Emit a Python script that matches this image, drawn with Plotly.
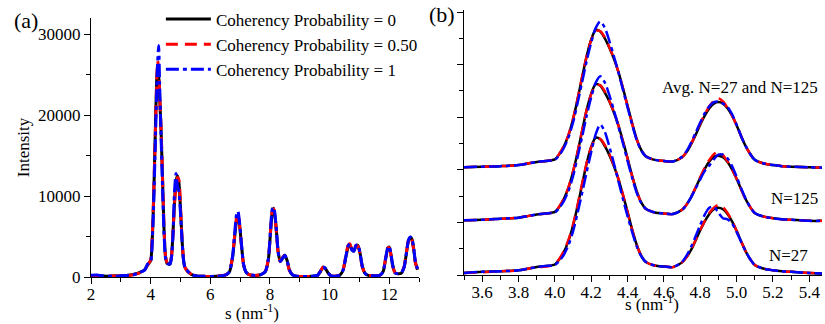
import plotly.graph_objects as go

# ---------------- (a) full diffraction profile ----------------
s_a = [
    2.0, 2.2, 2.4, 2.6, 2.8, 3.0, 3.2, 3.4, 3.6, 3.8,
    3.9, 4.0, 4.05, 4.10, 4.15, 4.20, 4.235, 4.27, 4.30, 4.35,
    4.40, 4.45, 4.50, 4.55, 4.60, 4.65, 4.70, 4.75, 4.80, 4.85,
    4.90, 4.95, 5.00, 5.05, 5.10, 5.15, 5.20, 5.30, 5.40, 5.60,
    5.80, 6.00, 6.20, 6.40, 6.55, 6.65, 6.75, 6.82, 6.88, 6.93,
    6.98, 7.05, 7.12, 7.20, 7.30, 7.50, 7.70, 7.85, 7.95, 8.02,
    8.08, 8.13, 8.20, 8.28, 8.35, 8.42, 8.50, 8.58, 8.65, 8.75,
    8.90, 9.10, 9.40, 9.60, 9.70, 9.78, 9.85, 9.95, 10.05, 10.20,
    10.35, 10.45, 10.55, 10.62, 10.68, 10.75, 10.82, 10.88, 10.95, 11.02,
    11.10, 11.20, 11.30, 11.50, 11.70, 11.80, 11.88, 11.95, 12.00, 12.05,
    12.12, 12.20, 12.30, 12.40, 12.50, 12.58, 12.65, 12.71, 12.76, 12.82,
    12.88, 12.95,
]
int_a_p0 = [
    150, 200, 120, 100, 150, 120, 180, 300, 500, 900,
    1500, 2000, 4400, 9500, 17000, 24000, 26300, 25000, 22500, 18000,
    12000, 5800, 2500, 1700, 1600, 1600, 2500, 5500, 9200, 11800,
    12500, 11600, 8500, 4800, 2200, 1200, 900, 500, 250, 100,
    80, 60, 80, 150, 300, 700, 2500, 5000, 7000, 7500,
    6500, 3800, 1500, 600, 300, 200, 300, 700, 2200, 5500,
    8000, 8500, 6500, 3000, 1900, 2300, 2700, 2000, 900, 300,
    100, 50, 80, 200, 700, 1200, 1100, 500, 150, 100,
    250, 800, 2500, 3700, 4000, 3400, 3200, 3800, 3900, 3000,
    1300, 400, 200, 150, 250, 700, 2200, 3500, 3700, 3000,
    1400, 500, 400, 450, 1200, 3000, 4500, 4900, 4700, 3500,
    1800, 900,
]
int_a_p050 = [
    180, 150, 100, 130, 120, 150, 150, 280, 450, 950,
    1500, 2100, 4800, 10000, 16500, 23500, 26700, 25500, 22800, 18300,
    12300, 6000, 2500, 1800, 1600, 1700, 2600, 5400, 9000, 11300,
    12300, 12000, 8800, 4900, 2300, 1200, 900, 500, 250, 100,
    80, 60, 80, 150, 320, 750, 2600, 5200, 7300, 7800,
    6600, 3700, 1400, 600, 300, 200, 300, 750, 2300, 5700,
    8200, 8400, 6300, 2900, 1900, 2400, 2700, 1900, 850, 300,
    100, 50, 80, 220, 750, 1200, 1050, 450, 150, 100,
    250, 850, 2700, 3900, 4100, 3400, 3300, 3900, 3800, 2900,
    1200, 400, 200, 150, 250, 750, 2300, 3600, 3600, 2900,
    1300, 500, 400, 450, 1300, 3100, 4600, 4950, 4600, 3400,
    1700, 1000,
]
int_a_p1 = [
    200, 250, 150, 120, 100, 150, 200, 250, 500, 850,
    1600, 1900, 4000, 8800, 15500, 22500, 26500, 28600, 24000, 17500,
    11000, 5300, 2300, 1700, 1600, 1600, 2400, 5200, 10500, 12800,
    11200, 10500, 8000, 4700, 2200, 1100, 900, 500, 250, 100,
    80, 60, 80, 150, 300, 700, 2600, 5400, 7700, 8100,
    6800, 3900, 1500, 600, 300, 200, 300, 700, 2300, 5800,
    8400, 8600, 6600, 3000, 1900, 2300, 2700, 2000, 900, 300,
    100, 50, 80, 200, 750, 1250, 1100, 500, 150, 100,
    250, 800, 2600, 3800, 4100, 3300, 3200, 3900, 4000, 3000,
    1300, 400, 200, 150, 250, 700, 2300, 3600, 3800, 3100,
    1400, 500, 400, 450, 1200, 3000, 4600, 4950, 4800, 3600,
    1900, 1000,
]

# ---------------- (b) first two peaks, stacked ----------------
s_b = [
    3.50, 3.60, 3.70, 3.80, 3.85, 3.90, 3.95, 4.00, 4.025, 4.05,
    4.075, 4.10, 4.125, 4.15, 4.175, 4.20, 4.225, 4.25, 4.275, 4.30,
    4.325, 4.35, 4.375, 4.40, 4.425, 4.45, 4.475, 4.50, 4.55, 4.60,
    4.65, 4.70, 4.725, 4.75, 4.775, 4.80, 4.825, 4.85, 4.875, 4.90,
    4.925, 4.95, 4.975, 5.00, 5.025, 5.05, 5.075, 5.10, 5.15, 5.20,
    5.25, 5.30, 5.40, 5.47,
]
n27_p0 = [
    0.04, 0.06, 0.07, 0.09, 0.12, 0.15, 0.17, 0.20, 0.30, 0.44,
    0.65, 0.94, 1.31, 1.72, 2.12, 2.44, 2.61, 2.58, 2.45, 2.28,
    2.07, 1.82, 1.52, 1.20, 0.87, 0.58, 0.37, 0.25, 0.18, 0.16,
    0.15, 0.24, 0.34, 0.48, 0.66, 0.85, 1.02, 1.16, 1.25, 1.28,
    1.25, 1.16, 1.02, 0.84, 0.64, 0.45, 0.30, 0.19, 0.12, 0.09,
    0.07, 0.06, 0.04, 0.03,
]
n27_p050 = [
    0.04, 0.05, 0.07, 0.09, 0.12, 0.15, 0.16, 0.20, 0.31, 0.46,
    0.67, 0.96, 1.33, 1.74, 2.13, 2.43, 2.59, 2.59, 2.47, 2.30,
    2.08, 1.83, 1.52, 1.19, 0.86, 0.57, 0.37, 0.25, 0.18, 0.16,
    0.15, 0.24, 0.34, 0.49, 0.67, 0.86, 1.03, 1.18, 1.28, 1.33,
    1.29, 1.18, 1.03, 0.84, 0.64, 0.45, 0.30, 0.19, 0.12, 0.09,
    0.07, 0.06, 0.04, 0.03,
]
n27_p1 = [
    0.04, 0.06, 0.07, 0.09, 0.12, 0.15, 0.17, 0.19, 0.27, 0.39,
    0.57, 0.83, 1.18, 1.56, 1.96, 2.34, 2.68, 2.86, 2.72, 2.44,
    2.12, 1.78, 1.44, 1.12, 0.82, 0.55, 0.36, 0.25, 0.18, 0.16,
    0.15, 0.25, 0.37, 0.54, 0.74, 0.95, 1.15, 1.28, 1.30, 1.18,
    1.08, 1.06, 0.98, 0.82, 0.63, 0.45, 0.30, 0.19, 0.12, 0.09,
    0.07, 0.06, 0.04, 0.03,
]
n125_p0 = [
    0.04, 0.05, 0.07, 0.09, 0.12, 0.15, 0.17, 0.20, 0.30, 0.45,
    0.66, 0.96, 1.33, 1.74, 2.14, 2.45, 2.63, 2.60, 2.47, 2.30,
    2.09, 1.84, 1.54, 1.22, 0.89, 0.60, 0.38, 0.26, 0.19, 0.17,
    0.16, 0.24, 0.34, 0.48, 0.66, 0.85, 1.02, 1.16, 1.25, 1.27,
    1.24, 1.15, 1.01, 0.83, 0.63, 0.44, 0.29, 0.18, 0.11, 0.08,
    0.06, 0.05, 0.03, 0.03,
]
n125_p050 = [
    0.04, 0.05, 0.07, 0.09, 0.12, 0.15, 0.17, 0.20, 0.31, 0.46,
    0.67, 0.97, 1.34, 1.75, 2.14, 2.44, 2.61, 2.61, 2.49, 2.31,
    2.10, 1.84, 1.53, 1.21, 0.88, 0.59, 0.38, 0.26, 0.19, 0.17,
    0.16, 0.24, 0.34, 0.49, 0.67, 0.86, 1.04, 1.19, 1.30, 1.35,
    1.28, 1.16, 1.01, 0.83, 0.63, 0.44, 0.29, 0.18, 0.11, 0.08,
    0.06, 0.05, 0.03, 0.03,
]
n125_p1 = [
    0.04, 0.05, 0.07, 0.09, 0.12, 0.15, 0.17, 0.19, 0.28, 0.41,
    0.60, 0.88, 1.24, 1.63, 2.03, 2.38, 2.66, 2.78, 2.66, 2.42,
    2.13, 1.82, 1.50, 1.17, 0.85, 0.57, 0.37, 0.26, 0.19, 0.17,
    0.16, 0.24, 0.34, 0.48, 0.65, 0.82, 0.98, 1.08, 1.20, 1.29,
    1.29, 1.22, 1.07, 0.87, 0.65, 0.45, 0.29, 0.18, 0.11, 0.08,
    0.06, 0.05, 0.03, 0.03,
]
avg_p0 = [
    0.05, 0.06, 0.07, 0.09, 0.12, 0.15, 0.17, 0.20, 0.30, 0.45,
    0.66, 0.96, 1.34, 1.76, 2.16, 2.48, 2.66, 2.63, 2.50, 2.32,
    2.11, 1.86, 1.55, 1.22, 0.89, 0.59, 0.38, 0.26, 0.19, 0.17,
    0.16, 0.24, 0.34, 0.49, 0.67, 0.86, 1.03, 1.17, 1.26, 1.29,
    1.26, 1.17, 1.03, 0.85, 0.64, 0.45, 0.30, 0.19, 0.12, 0.09,
    0.07, 0.06, 0.05, 0.04,
]
avg_p050 = [
    0.05, 0.06, 0.07, 0.09, 0.12, 0.15, 0.17, 0.20, 0.31, 0.46,
    0.67, 0.97, 1.35, 1.77, 2.16, 2.47, 2.64, 2.64, 2.52, 2.33,
    2.12, 1.86, 1.54, 1.21, 0.88, 0.58, 0.38, 0.26, 0.19, 0.17,
    0.16, 0.24, 0.34, 0.50, 0.68, 0.88, 1.06, 1.21, 1.31, 1.36,
    1.30, 1.18, 1.03, 0.85, 0.64, 0.45, 0.30, 0.19, 0.12, 0.09,
    0.07, 0.06, 0.05, 0.04,
]
avg_p1 = [
    0.05, 0.06, 0.07, 0.09, 0.12, 0.15, 0.17, 0.19, 0.28, 0.42,
    0.62, 0.90, 1.27, 1.67, 2.07, 2.42, 2.70, 2.82, 2.70, 2.45,
    2.16, 1.85, 1.52, 1.19, 0.86, 0.57, 0.37, 0.26, 0.19, 0.17,
    0.16, 0.25, 0.36, 0.52, 0.71, 0.90, 1.08, 1.21, 1.29, 1.30,
    1.26, 1.20, 1.06, 0.86, 0.64, 0.45, 0.30, 0.19, 0.12, 0.09,
    0.07, 0.06, 0.05, 0.04,
]

series_names = ["Coherency Probability = 0",
                "Coherency Probability = 0.50",
                "Coherency Probability = 1"]
group_labels = ["N=27", "N=125", "Avg. N=27 and N=125"]
group_offsets = [0, 1, 2]

FONT = "Times New Roman, Liberation Serif, DejaVu Serif, serif"
line_styles = [
    dict(color="#000000", dash="solid"),
    dict(color="#ff0000", dash="12px,7px"),
    dict(color="#0000ff", dash="13px,4px,4px,4px"),
]

fig = go.Figure()

for name, ys, st in zip(series_names, [int_a_p0, int_a_p050, int_a_p1], line_styles):
    fig.add_trace(go.Scatter(
        x=s_a, y=ys, mode="lines", name=name,
        line=dict(width=3, shape="spline", smoothing=0.6, **st),
        xaxis="x", yaxis="y",
    ))

groups_b = [
    [n27_p0, n27_p050, n27_p1],
    [n125_p0, n125_p050, n125_p1],
    [avg_p0, avg_p050, avg_p1],
]
for offset, group in zip(group_offsets, groups_b):
    for ys, st in zip(group, line_styles):
        fig.add_trace(go.Scatter(
            x=s_b, y=[v + offset for v in ys], mode="lines", showlegend=False,
            line=dict(width=2.5, shape="spline", smoothing=0.8, **st),
            xaxis="x2", yaxis="y2",
        ))

tickfont = dict(family=FONT, size=17, color="black")
common = dict(showline=True, linecolor="black", linewidth=1, showgrid=False,
              zeroline=False, ticks="outside", ticklen=6, tickwidth=1,
              tickcolor="black", tickfont=tickfont, automargin=False)

fig.update_layout(
    width=825, height=324,
    margin=dict(l=0, r=0, t=0, b=0, autoexpand=False),
    paper_bgcolor="white", plot_bgcolor="white",
    font=dict(family=FONT, size=17, color="black"),
    showlegend=True,
    legend=dict(x=0.195, y=1 - 1.5 / 324, xanchor="left", yanchor="top",
                bgcolor="rgba(0,0,0,0)", font=dict(family=FONT, size=17),
                itemwidth=45, tracegroupgap=0),
    xaxis=dict(domain=[91 / 825, 419 / 825], range=[2, 13], tick0=2, dtick=2,
               ticklabelstandoff=-4,
               minor=dict(dtick=1, ticks="outside", ticklen=4, tickcolor="black"),
               anchor="y", **common),
    yaxis=dict(domain=[47 / 324, 306 / 324], range=[0, 32000], dtick=10000,
               tickformat="d",
               minor=dict(dtick=5000, ticks="outside", ticklen=4, tickcolor="black"),
               title=dict(text="Intensity", font=dict(family=FONT, size=17), standoff=4),
               anchor="x", **common),
    xaxis2=dict(domain=[464 / 825, 822 / 825], range=[3.5, 5.47], tick0=3.6, dtick=0.2,
                tickformat=".1f", ticklabelstandoff=-4,
                minor=dict(dtick=0.1, ticks="outside", ticklen=4, tickcolor="black"),
                anchor="y2", **common),
    yaxis2=dict(domain=[49 / 324, 314 / 324], range=[0, 5.04], dtick=1,
                showticklabels=False,
                minor=dict(dtick=0.5, ticks="outside", ticklen=4, tickcolor="black"),
                anchor="x2", **common),
)

# panel letters
fig.add_annotation(text="(a)", xref="paper", yref="paper", x=12 / 825, y=1 - 20 / 324,
                   xanchor="left", yanchor="middle", showarrow=False,
                   font=dict(family=FONT, size=22))
fig.add_annotation(text="(b)", xref="paper", yref="paper", x=427 / 825, y=1 - 15 / 324,
                   xanchor="left", yanchor="middle", showarrow=False,
                   font=dict(family=FONT, size=22))

# x-axis titles, placed close under the tick labels
for cx, cy in [(252, 312), (652, 303)]:
    fig.add_annotation(text="s (nm<sup>-1</sup>)", xref="paper", yref="paper",
                       x=cx / 825, y=1 - cy / 324, xanchor="center", yanchor="middle",
                       showarrow=False, font=dict(family=FONT, size=17))

# curve labels in (b)
label_pos = [(810, 255), (820, 198), (820, 87)]
for text, (px, py) in zip(group_labels, label_pos):
    fig.add_annotation(text=text, xref="paper", yref="paper", x=px / 825, y=1 - py / 324,
                       xanchor="right", yanchor="middle", showarrow=False,
                       font=dict(family=FONT, size=17))

fig.write_html("out.html")
